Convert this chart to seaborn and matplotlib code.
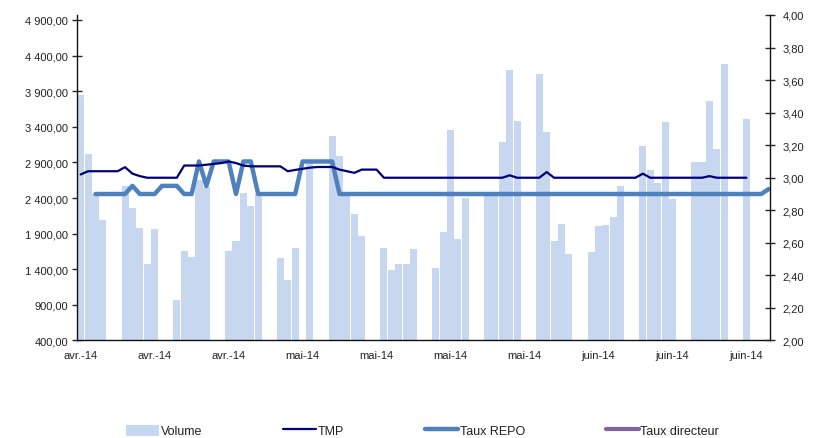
import pandas as pd
import matplotlib
matplotlib.use('Agg')
import matplotlib.pyplot as plt
import seaborn as sns
from matplotlib.ticker import FuncFormatter
from matplotlib.patches import Patch
from matplotlib.lines import Line2D

# Volume : jours ouvrés du 01/04/2014 au 30/06/2014 (1er mai férié)
vol_dates = pd.bdate_range('2014-04-01', '2014-06-30')
volume = [
    3850, 3025, 2450, 2095,
    2565, 2255, 1985, 1480, 1960,
    975, 1660, 1570, 2650, 2550,
    1650, 1795, 2470, 2285, 2450,
    1565, 1255, 1705,
    0, 2900,
    3270, 2985, 2480, 2170, 1865,
    1700, 1385, 1470, 1480, 1690,
    1420, 1925, 3360, 1830, 2400,
    2450, 2450, 3190, 4195, 3485,
    4140, 3330, 1795, 2030, 1620,
    1645, 2005, 2025, 2130, 2570,
    3135, 2800, 2610, 3465, 2380,
    2910, 2900, 3760, 3090, 4275,
    3515,
]

# TMP : valeurs journalières du 01/04 au 30/06
tmp_dates = pd.date_range('2014-04-01', '2014-06-30')
tmp = [
    3.02, 3.04, 3.04, 3.04, 3.04, 3.04, 3.065, 3.025, 3.01, 3.00,
    3.00, 3.00, 3.00, 3.00, 3.075, 3.075, 3.075, 3.08, 3.085, 3.09,
    3.10, 3.09, 3.075, 3.07, 3.07, 3.07, 3.07, 3.07, 3.04, 3.048,
    3.055, 3.062, 3.066, 3.066, 3.066, 3.05, 3.04, 3.03, 3.05, 3.05,
    3.05, 3.00, 3.00, 3.00, 3.00, 3.00, 3.00, 3.00, 3.00, 3.00,
    3.00, 3.00, 3.00, 3.00, 3.00, 3.00, 3.00, 3.00, 3.015, 3.00,
    3.00, 3.00, 3.00, 3.035, 3.00, 3.00, 3.00, 3.00, 3.00, 3.00,
    3.00, 3.00, 3.00, 3.00, 3.00, 3.00, 3.025, 3.00, 3.00, 3.00,
    3.00, 3.00, 3.00, 3.00, 3.00, 3.01, 3.00, 3.00, 3.00, 3.00,
    3.00,
]

# Taux REPO : valeurs journalières du 03/04 au 03/07
repo_dates = pd.date_range('2014-04-03', '2014-07-03')
repo = [
    2.90, 2.90, 2.90, 2.90, 2.90, 2.95, 2.90, 2.90, 2.90, 2.95,
    2.95, 2.95, 2.90, 2.90, 3.10, 2.95, 3.10, 3.10, 3.10, 2.90,
    3.10, 3.10, 2.90, 2.90, 2.90, 2.90, 2.90, 2.90, 3.10, 3.10,
    3.10, 3.10, 3.10, 2.90, 2.90, 2.90, 2.90, 2.90, 2.90, 2.90,
    2.90, 2.90, 2.90, 2.90, 2.90, 2.90, 2.90, 2.90, 2.90, 2.90,
    2.90, 2.90, 2.90, 2.90, 2.90, 2.90, 2.90, 2.90, 2.90, 2.90,
    2.90, 2.90, 2.90, 2.90, 2.90, 2.90, 2.90, 2.90, 2.90, 2.90,
    2.90, 2.90, 2.90, 2.90, 2.90, 2.90, 2.90, 2.90, 2.90, 2.90,
    2.90, 2.90, 2.90, 2.90, 2.90, 2.90, 2.90, 2.90, 2.90, 2.90,
    2.90, 2.93,
]

tick_dates = pd.to_datetime(['2014-04-01', '2014-04-11', '2014-04-21', '2014-05-01',
                             '2014-05-11', '2014-05-21', '2014-05-31', '2014-06-10',
                             '2014-06-20', '2014-06-30'])
tick_labels = ['avr.-14', 'avr.-14', 'avr.-14', 'mai-14', 'mai-14',
               'mai-14', 'mai-14', 'juin-14', 'juin-14', 'juin-14']

sns.set_style('white')
plt.rcParams['font.family'] = ['Liberation Sans', 'DejaVu Sans']

start = pd.Timestamp('2014-04-01')
vol_x = (vol_dates - start).days
tmp_x = (tmp_dates - start).days
repo_x = (repo_dates - start).days

c_vol = '#C6D7EF'
c_tmp = '#00007A'
c_repo = '#4F81BD'
c_dir = '#8064A2'
txt = '#222222'

fig = plt.figure(figsize=(8.16, 4.39), dpi=100)
ax = fig.add_axes([0.0944, 0.2221, 0.8493, 0.7415])

sns.barplot(x=vol_x, y=volume, native_scale=True, width=0.95, color=c_vol,
            saturation=1, linewidth=0, ax=ax)
ax.set_ylim(400, 4970)
ax.set_yticks(range(400, 5000, 500))
ax.yaxis.set_major_formatter(FuncFormatter(
    lambda v, p: f"{v:,.2f}".replace(',', ' ').replace('.', ',')))

ax2 = ax.twinx()
sns.lineplot(x=repo_x, y=repo, color=c_repo, linewidth=3.2, ax=ax2)
sns.lineplot(x=tmp_x, y=tmp, color=c_tmp, linewidth=1.6, ax=ax2)
ax2.set_ylim(2.0, 4.0)
ax2.set_yticks([2.0 + 0.2 * i for i in range(11)])
ax2.yaxis.set_major_formatter(FuncFormatter(lambda v, p: f"{v:.2f}".replace('.', ',')))

ax.set_xlim(-0.49, 93.2)
ax.set_xticks((tick_dates - start).days)
ax.set_xticklabels(tick_labels)

for a in (ax, ax2):
    a.set_xlabel('')
    a.set_ylabel('')
    for s in a.spines.values():
        s.set_visible(False)
ax.spines['left'].set_visible(True)
ax.spines['bottom'].set_visible(True)
ax2.spines['right'].set_visible(True)
for s in (ax.spines['left'], ax.spines['bottom'], ax2.spines['right']):
    s.set_color('#111111')
    s.set_linewidth(1.0)

ax.tick_params(axis='y', direction='inout', length=6.5, width=1, pad=3,
               labelsize=8, labelcolor=txt, left=True)
ax.tick_params(axis='x', length=0, pad=7, labelsize=8, labelcolor=txt)
ax2.tick_params(axis='y', direction='inout', length=6.5, width=1, pad=6,
                labelsize=8, labelcolor=txt, right=True)
if ax2.get_legend() is not None:
    ax2.get_legend().remove()

handles = [Patch(facecolor=c_vol, edgecolor='none'),
           Line2D([], [], color=c_tmp, lw=1.6),
           Line2D([], [], color=c_repo, lw=3.2),
           Line2D([], [], color=c_dir, lw=3.0)]
labels = ['Volume', 'TMP', 'Taux REPO', 'Taux directeur']
fig.legend(handles, labels, loc='center', bbox_to_anchor=(0.518, 0.016), ncol=4,
           frameon=False, fontsize=9, handlelength=2.6, handletextpad=0.15,
           columnspacing=6.5, handleheight=1.0, labelcolor=txt)

fig.savefig('out.png', dpi=100)
